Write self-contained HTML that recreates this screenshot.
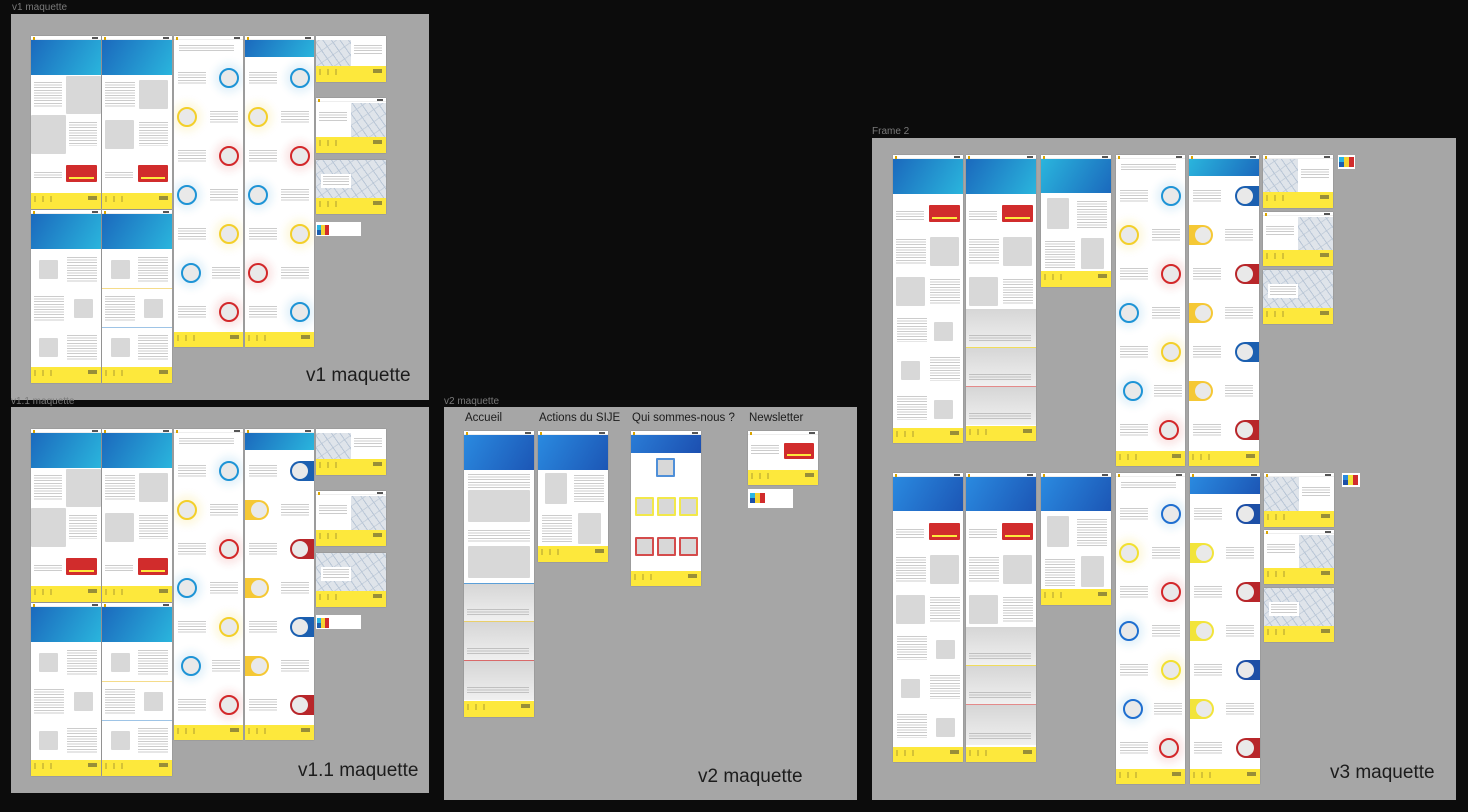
<!DOCTYPE html>
<html><head><meta charset="utf-8">
<style>
*{margin:0;padding:0;box-sizing:border-box}
body{width:1468px;height:812px;background:#0c0c0c;position:relative;overflow:hidden;font-family:"Liberation Sans",sans-serif}
.a{position:absolute}
.fr{position:absolute;background:#a6a6a6}
.fl{position:absolute;font-size:10px;color:#7a7a7a;white-space:nowrap}
.big{position:absolute;font-size:19px;color:#1c1c1c;white-space:nowrap}
.lab{position:absolute;font-size:11.5px;color:#1c1c1c;white-space:nowrap}
.m{position:absolute;background:#fff;overflow:hidden;box-shadow:0 0 1px rgba(0,0,0,.3)}
.hb{position:absolute;left:0;right:0;top:0;height:4px;background:#fff;border-bottom:1px solid #eee}
.hb:before{content:"";position:absolute;left:2px;top:1px;width:2px;height:3px;background:#d9a400}
.hb:after{content:"";position:absolute;right:3px;top:1px;width:6px;height:2px;background:#555}
.h{position:absolute;left:0;right:0;top:4px;background:linear-gradient(120deg,#1b69bd,#2ab5dd)}
.h2{position:absolute;left:0;right:0;top:4px;background:linear-gradient(120deg,#2a8ae0,#1c56b5)}
.f{position:absolute;left:0;right:0;bottom:0;height:16px;background:#fde83c}
.f:before{content:"";position:absolute;left:3px;top:3px;width:20px;height:6px;background:repeating-linear-gradient(90deg,#8a7c2a 0 2px,transparent 2px 8px);opacity:.35}
.f:after{content:"";position:absolute;right:4px;top:3px;width:9px;height:4px;background:#333;opacity:.5}
.g{position:absolute;background:#d8d8d8;border-radius:1px}
.t{position:absolute;background:repeating-linear-gradient(to bottom,#8e8e8e 0 1px,transparent 1px 2.6px);opacity:.45}
.r{position:absolute;background:#d12c2c;border-radius:1px}
.r:after{content:"";position:absolute;left:3px;right:3px;bottom:3px;height:2px;background:#fde83c}
.c{position:absolute;width:20px;height:20px;border-radius:50%;background:#e9e9e9;border:2px solid}
.cb{border-color:#1e94d6;box-shadow:0 0 8px 5px rgba(30,148,214,.12)}
.cy{border-color:#f3cf2a;box-shadow:0 0 8px 5px rgba(243,207,42,.15)}
.cr{border-color:#d3282a;box-shadow:0 0 8px 5px rgba(211,40,42,.12)}
.pr{position:absolute;right:0;width:24px;height:20px;border-radius:10px 0 0 10px}
.pl{position:absolute;left:0;width:24px;height:20px;border-radius:0 10px 10px 0}
.pr:after,.pl:after{content:"";position:absolute;top:2px;width:16px;height:16px;border-radius:50%;background:#e9e9e9}
.pr:after{left:2px}.pl:after{right:2px}
.pb{background:#1b5fb0}.py{background:#f5c835}.pR{background:#b8262a}
.map{position:absolute;background:#dfe4ea;background-image:repeating-linear-gradient(55deg,transparent 0 6px,#b9c6d6 6px 7px),repeating-linear-gradient(-35deg,transparent 0 9px,#c6d0dc 9px 10px)}
.pal{position:absolute;background:#fff}
.sec{position:absolute;left:0;right:0;background:linear-gradient(#d6d6d6,#f0f0f0)}
</style></head><body>

<!-- ============ v1 ============ -->
<div class="fl" style="left:12px;top:2px">v1 maquette</div>
<div class="fr" style="left:11px;top:14px;width:418px;height:386px"></div>

<div class="m" style="left:31px;top:36px;width:70px;height:173px"><div class="hb"></div><div class="h" style="height:35px"></div>
<div class="g" style="left:35px;top:40px;width:35px;height:38px"></div><div class="g" style="left:0;top:79px;width:35px;height:39px"></div>
<div class="t" style="left:3px;top:46px;width:28px;height:26px"></div><div class="t" style="left:38px;top:86px;width:28px;height:24px"></div>
<div class="t" style="left:3px;top:136px;width:28px;height:8px"></div><div class="r" style="left:35px;top:129px;width:31px;height:17px"></div><div class="f"></div></div>
<div class="m" style="left:102px;top:36px;width:70px;height:173px"><div class="hb"></div><div class="h" style="height:35px"></div>
<div class="g" style="left:37px;top:44px;width:29px;height:29px"></div><div class="g" style="left:3px;top:84px;width:29px;height:29px"></div>
<div class="t" style="left:3px;top:46px;width:30px;height:26px"></div><div class="t" style="left:37px;top:86px;width:29px;height:24px"></div>
<div class="t" style="left:3px;top:136px;width:28px;height:8px"></div><div class="r" style="left:36px;top:129px;width:30px;height:17px"></div><div class="f"></div></div>
<div class="m" style="left:31px;top:210px;width:70px;height:173px"><div class="hb"></div><div class="h" style="height:35px"></div>
<div class="g" style="left:8px;top:50px;width:19px;height:19px"></div><div class="g" style="left:43px;top:89px;width:19px;height:19px"></div><div class="g" style="left:8px;top:128px;width:19px;height:19px"></div>
<div class="t" style="left:36px;top:47px;width:30px;height:26px"></div><div class="t" style="left:3px;top:86px;width:30px;height:26px"></div><div class="t" style="left:36px;top:125px;width:30px;height:26px"></div><div class="f"></div></div>
<div class="m" style="left:102px;top:210px;width:70px;height:173px"><div class="hb"></div><div class="h" style="height:35px"></div>
<div class="g" style="left:9px;top:50px;width:19px;height:19px"></div><div class="g" style="left:42px;top:89px;width:19px;height:19px"></div><div class="g" style="left:9px;top:128px;width:19px;height:19px"></div>
<div class="a" style="left:0;right:0;top:78px;height:1px;background:#f5dc8a"></div><div class="a" style="left:0;right:0;top:117px;height:1px;background:#9ec4e6"></div>
<div class="t" style="left:36px;top:47px;width:30px;height:26px"></div><div class="t" style="left:3px;top:86px;width:30px;height:26px"></div><div class="t" style="left:36px;top:125px;width:30px;height:26px"></div><div class="f"></div></div>
<div class="m" style="left:174px;top:36px;width:69px;height:311px"><div class="hb"></div>
<div class="t" style="left:5px;top:9px;width:55px;height:8px"></div>
<div class="c cb" style="left:45px;top:32px"></div><div class="c cy" style="left:3px;top:71px"></div><div class="c cr" style="left:45px;top:110px"></div><div class="c cb" style="left:3px;top:149px"></div><div class="c cy" style="left:45px;top:188px"></div><div class="c cb" style="left:7px;top:227px"></div><div class="c cr" style="left:45px;top:266px"></div>
<div class="t" style="left:4px;top:36px;width:28px;height:12px"></div><div class="t" style="left:36px;top:75px;width:28px;height:12px"></div><div class="t" style="left:4px;top:114px;width:28px;height:12px"></div><div class="t" style="left:36px;top:153px;width:28px;height:12px"></div><div class="t" style="left:4px;top:192px;width:28px;height:12px"></div><div class="t" style="left:38px;top:231px;width:28px;height:12px"></div><div class="t" style="left:4px;top:270px;width:28px;height:12px"></div>
<div class="f" style="height:15px"></div></div>
<div class="m" style="left:245px;top:36px;width:69px;height:311px"><div class="hb"></div><div class="h" style="height:17px"></div>
<div class="c cb" style="left:45px;top:32px"></div><div class="c cy" style="left:3px;top:71px"></div><div class="c cr" style="left:45px;top:110px"></div><div class="c cb" style="left:3px;top:149px"></div><div class="c cy" style="left:45px;top:188px"></div><div class="c cr" style="left:3px;top:227px"></div><div class="c cb" style="left:45px;top:266px"></div>
<div class="t" style="left:4px;top:36px;width:28px;height:12px"></div><div class="t" style="left:36px;top:75px;width:28px;height:12px"></div><div class="t" style="left:4px;top:114px;width:28px;height:12px"></div><div class="t" style="left:36px;top:153px;width:28px;height:12px"></div><div class="t" style="left:4px;top:192px;width:28px;height:12px"></div><div class="t" style="left:36px;top:231px;width:28px;height:12px"></div><div class="t" style="left:4px;top:270px;width:28px;height:12px"></div>
<div class="f" style="height:15px"></div></div>
<div class="m" style="left:316px;top:36px;width:70px;height:46px"><div class="map" style="left:0;top:4px;width:35px;height:26px"></div><div class="t" style="left:38px;top:9px;width:28px;height:10px"></div><div class="f"></div></div>
<div class="m" style="left:316px;top:98px;width:70px;height:55px"><div class="hb"></div><div class="map" style="left:35px;top:5px;width:35px;height:34px"></div><div class="t" style="left:3px;top:14px;width:28px;height:10px"></div><div class="f"></div></div>
<div class="m" style="left:316px;top:160px;width:70px;height:54px"><div class="map" style="left:0;top:0;width:70px;height:38px"></div><div class="a" style="left:5px;top:14px;width:30px;height:14px;background:#fff"></div><div class="t" style="left:7px;top:16px;width:26px;height:9px"></div><div class="f"></div></div>
<div class="pal" style="left:316px;top:222px;width:45px;height:14px"><div class="a" style="left:1px;top:3px;width:4px;height:5px;background:#2ab5e3"></div><div class="a" style="left:1px;top:8px;width:4px;height:5px;background:#1b5fb0"></div><div class="a" style="left:5px;top:3px;width:4px;height:10px;background:#f5d230"></div><div class="a" style="left:9px;top:3px;width:4px;height:10px;background:#d12c2c"></div></div>
<div class="big" style="left:306px;top:365px">v1 maquette</div>

<!-- ============ v1.1 ============ -->
<div class="fl" style="left:11px;top:396px">v1.1 maquette</div>
<div class="fr" style="left:11px;top:407px;width:418px;height:386px"></div>

<div class="m" style="left:31px;top:429px;width:70px;height:173px"><div class="hb"></div><div class="h" style="height:35px"></div>
<div class="g" style="left:35px;top:40px;width:35px;height:38px"></div><div class="g" style="left:0;top:79px;width:35px;height:39px"></div>
<div class="t" style="left:3px;top:46px;width:28px;height:26px"></div><div class="t" style="left:38px;top:86px;width:28px;height:24px"></div>
<div class="t" style="left:3px;top:136px;width:28px;height:8px"></div><div class="r" style="left:35px;top:129px;width:31px;height:17px"></div><div class="f"></div></div>
<div class="m" style="left:102px;top:429px;width:70px;height:173px"><div class="hb"></div><div class="h" style="height:35px"></div>
<div class="g" style="left:37px;top:44px;width:29px;height:29px"></div><div class="g" style="left:3px;top:84px;width:29px;height:29px"></div>
<div class="t" style="left:3px;top:46px;width:30px;height:26px"></div><div class="t" style="left:37px;top:86px;width:29px;height:24px"></div>
<div class="t" style="left:3px;top:136px;width:28px;height:8px"></div><div class="r" style="left:36px;top:129px;width:30px;height:17px"></div><div class="f"></div></div>
<div class="m" style="left:31px;top:603px;width:70px;height:173px"><div class="hb"></div><div class="h" style="height:35px"></div>
<div class="g" style="left:8px;top:50px;width:19px;height:19px"></div><div class="g" style="left:43px;top:89px;width:19px;height:19px"></div><div class="g" style="left:8px;top:128px;width:19px;height:19px"></div>
<div class="t" style="left:36px;top:47px;width:30px;height:26px"></div><div class="t" style="left:3px;top:86px;width:30px;height:26px"></div><div class="t" style="left:36px;top:125px;width:30px;height:26px"></div><div class="f"></div></div>
<div class="m" style="left:102px;top:603px;width:70px;height:173px"><div class="hb"></div><div class="h" style="height:35px"></div>
<div class="g" style="left:9px;top:50px;width:19px;height:19px"></div><div class="g" style="left:42px;top:89px;width:19px;height:19px"></div><div class="g" style="left:9px;top:128px;width:19px;height:19px"></div>
<div class="a" style="left:0;right:0;top:78px;height:1px;background:#f5dc8a"></div><div class="a" style="left:0;right:0;top:117px;height:1px;background:#9ec4e6"></div>
<div class="t" style="left:36px;top:47px;width:30px;height:26px"></div><div class="t" style="left:3px;top:86px;width:30px;height:26px"></div><div class="t" style="left:36px;top:125px;width:30px;height:26px"></div><div class="f"></div></div>
<div class="m" style="left:174px;top:429px;width:69px;height:311px"><div class="hb"></div>
<div class="t" style="left:5px;top:9px;width:55px;height:8px"></div>
<div class="c cb" style="left:45px;top:32px"></div><div class="c cy" style="left:3px;top:71px"></div><div class="c cr" style="left:45px;top:110px"></div><div class="c cb" style="left:3px;top:149px"></div><div class="c cy" style="left:45px;top:188px"></div><div class="c cb" style="left:7px;top:227px"></div><div class="c cr" style="left:45px;top:266px"></div>
<div class="t" style="left:4px;top:36px;width:28px;height:12px"></div><div class="t" style="left:36px;top:75px;width:28px;height:12px"></div><div class="t" style="left:4px;top:114px;width:28px;height:12px"></div><div class="t" style="left:36px;top:153px;width:28px;height:12px"></div><div class="t" style="left:4px;top:192px;width:28px;height:12px"></div><div class="t" style="left:38px;top:231px;width:28px;height:12px"></div><div class="t" style="left:4px;top:270px;width:28px;height:12px"></div>
<div class="f" style="height:15px"></div></div>
<div class="m" style="left:245px;top:429px;width:69px;height:311px"><div class="hb"></div><div class="h" style="height:17px"></div>
<div class="pr pb" style="top:32px"></div><div class="pl py" style="top:71px"></div><div class="pr pR" style="top:110px"></div><div class="pl py" style="top:149px"></div><div class="pr pb" style="top:188px"></div><div class="pl py" style="top:227px"></div><div class="pr pR" style="top:266px"></div>
<div class="t" style="left:4px;top:36px;width:28px;height:12px"></div><div class="t" style="left:36px;top:75px;width:28px;height:12px"></div><div class="t" style="left:4px;top:114px;width:28px;height:12px"></div><div class="t" style="left:36px;top:153px;width:28px;height:12px"></div><div class="t" style="left:4px;top:192px;width:28px;height:12px"></div><div class="t" style="left:36px;top:231px;width:28px;height:12px"></div><div class="t" style="left:4px;top:270px;width:28px;height:12px"></div>
<div class="f" style="height:15px"></div></div>
<div class="m" style="left:316px;top:429px;width:70px;height:46px"><div class="map" style="left:0;top:4px;width:35px;height:26px"></div><div class="t" style="left:38px;top:9px;width:28px;height:10px"></div><div class="f"></div></div>
<div class="m" style="left:316px;top:491px;width:70px;height:55px"><div class="hb"></div><div class="map" style="left:35px;top:5px;width:35px;height:34px"></div><div class="t" style="left:3px;top:14px;width:28px;height:10px"></div><div class="f"></div></div>
<div class="m" style="left:316px;top:553px;width:70px;height:54px"><div class="map" style="left:0;top:0;width:70px;height:38px"></div><div class="a" style="left:5px;top:14px;width:30px;height:14px;background:#fff"></div><div class="t" style="left:7px;top:16px;width:26px;height:9px"></div><div class="f"></div></div>
<div class="pal" style="left:316px;top:615px;width:45px;height:14px"><div class="a" style="left:1px;top:3px;width:4px;height:5px;background:#2ab5e3"></div><div class="a" style="left:1px;top:8px;width:4px;height:5px;background:#1b5fb0"></div><div class="a" style="left:5px;top:3px;width:4px;height:10px;background:#f5d230"></div><div class="a" style="left:9px;top:3px;width:4px;height:10px;background:#d12c2c"></div></div>
<div class="big" style="left:298px;top:760px">v1.1 maquette</div>

<!-- ============ v2 ============ -->
<div class="fl" style="left:444px;top:396px">v2 maquette</div>
<div class="fr" style="left:444px;top:407px;width:413px;height:393px"></div>
<div class="lab" style="left:465px;top:412px">Accueil</div>
<div class="lab" style="left:539px;top:412px">Actions du SIJE</div>
<div class="lab" style="left:632px;top:412px">Qui sommes-nous ?</div>
<div class="lab" style="left:749px;top:412px">Newsletter</div>

<div class="m" style="left:464px;top:431px;width:70px;height:286px"><div class="hb"></div><div class="h2" style="height:35px"></div>
<div class="t" style="left:4px;top:43px;width:62px;height:14px"></div><div class="g" style="left:4px;top:59px;width:62px;height:32px"></div>
<div class="t" style="left:4px;top:99px;width:62px;height:12px"></div><div class="g" style="left:4px;top:115px;width:62px;height:32px"></div>
<div class="a" style="left:0;right:0;top:152px;height:1px;background:#5b9fd8"></div><div class="sec" style="top:153px;height:37px"></div><div class="t" style="left:3px;top:178px;width:62px;height:7px"></div>
<div class="a" style="left:0;right:0;top:190px;height:1px;background:#e9cf6a"></div><div class="sec" style="top:191px;height:38px"></div><div class="t" style="left:3px;top:217px;width:62px;height:7px"></div>
<div class="a" style="left:0;right:0;top:229px;height:1px;background:#d96a6a"></div><div class="sec" style="top:230px;height:39px"></div><div class="t" style="left:3px;top:256px;width:62px;height:7px"></div>
<div class="f"></div></div>
<div class="m" style="left:538px;top:431px;width:70px;height:131px"><div class="hb"></div><div class="h2" style="height:35px"></div>
<div class="g" style="left:7px;top:42px;width:22px;height:31px"></div><div class="t" style="left:36px;top:44px;width:30px;height:27px"></div>
<div class="g" style="left:40px;top:82px;width:23px;height:31px"></div><div class="t" style="left:4px;top:84px;width:30px;height:27px"></div>
<div class="f"></div></div>
<div class="m" style="left:631px;top:431px;width:70px;height:155px"><div class="hb"></div><div class="h2" style="height:18px;background:linear-gradient(120deg,#2a7cd6,#1c4fb0)"></div>
<div class="g" style="left:25px;top:27px;width:19px;height:19px;border:2px solid #4f8fd8"></div>
<div class="g" style="left:4px;top:66px;width:19px;height:19px;border:2px solid #f2e84a"></div><div class="g" style="left:26px;top:66px;width:19px;height:19px;border:2px solid #f2e84a"></div><div class="g" style="left:48px;top:66px;width:19px;height:19px;border:2px solid #f2e84a"></div>
<div class="g" style="left:4px;top:106px;width:19px;height:19px;border:2px solid #d44c4c"></div><div class="g" style="left:26px;top:106px;width:19px;height:19px;border:2px solid #d44c4c"></div><div class="g" style="left:48px;top:106px;width:19px;height:19px;border:2px solid #d44c4c"></div>
<div class="f" style="height:15px"></div></div>
<div class="m" style="left:748px;top:431px;width:70px;height:54px"><div class="hb"></div><div class="t" style="left:3px;top:14px;width:28px;height:9px"></div><div class="r" style="left:36px;top:12px;width:30px;height:16px"></div><div class="f" style="height:15px"></div></div>
<div class="pal" style="left:748px;top:489px;width:45px;height:19px"><div class="a" style="left:2px;top:4px;width:5px;height:5px;background:#2ab5e3"></div><div class="a" style="left:2px;top:9px;width:5px;height:5px;background:#1b4fa8"></div><div class="a" style="left:7px;top:4px;width:5px;height:10px;background:#f5d230"></div><div class="a" style="left:12px;top:4px;width:5px;height:10px;background:#d12c2c"></div></div>
<div class="big" style="left:698px;top:766px">v2 maquette</div>

<!-- ============ Frame 2 / v3 ============ -->
<div class="fl" style="left:872px;top:126px">Frame 2</div>
<div class="fr" style="left:872px;top:138px;width:584px;height:662px"></div>

<div class="m" style="left:893px;top:155px;width:70px;height:288px"><div class="hb"></div><div class="h" style="height:35px"></div>
<div class="t" style="left:3px;top:56px;width:28px;height:9px"></div><div class="r" style="left:36px;top:50px;width:31px;height:17px"></div>
<div class="t" style="left:3px;top:84px;width:30px;height:26px"></div><div class="g" style="left:37px;top:82px;width:29px;height:29px"></div>
<div class="g" style="left:3px;top:122px;width:29px;height:29px"></div><div class="t" style="left:37px;top:124px;width:30px;height:26px"></div>
<div class="t" style="left:4px;top:163px;width:30px;height:24px"></div><div class="g" style="left:41px;top:167px;width:19px;height:19px"></div>
<div class="g" style="left:8px;top:206px;width:19px;height:19px"></div><div class="t" style="left:37px;top:202px;width:30px;height:24px"></div>
<div class="t" style="left:4px;top:241px;width:30px;height:24px"></div><div class="g" style="left:41px;top:245px;width:19px;height:19px"></div>
<div class="f" style="height:15px"></div></div>
<div class="m" style="left:966px;top:155px;width:70px;height:286px"><div class="hb"></div><div class="h" style="height:35px"></div>
<div class="t" style="left:3px;top:56px;width:28px;height:9px"></div><div class="r" style="left:36px;top:50px;width:31px;height:17px"></div>
<div class="t" style="left:3px;top:84px;width:30px;height:26px"></div><div class="g" style="left:37px;top:82px;width:29px;height:29px"></div>
<div class="g" style="left:3px;top:122px;width:29px;height:29px"></div><div class="t" style="left:37px;top:124px;width:30px;height:26px"></div>
<div class="sec" style="top:154px;height:38px"></div><div class="t" style="left:3px;top:180px;width:62px;height:7px"></div>
<div class="a" style="left:0;right:0;top:192px;height:1px;background:#f0dc5a"></div><div class="sec" style="top:193px;height:38px"></div><div class="t" style="left:3px;top:219px;width:62px;height:7px"></div>
<div class="a" style="left:0;right:0;top:231px;height:1px;background:#e48a8a"></div><div class="sec" style="top:232px;height:38px"></div><div class="t" style="left:3px;top:258px;width:62px;height:7px"></div>
<div class="f" style="height:15px"></div></div>
<div class="m" style="left:1041px;top:155px;width:70px;height:132px"><div class="hb"></div><div class="h" style="height:34px;background:linear-gradient(120deg,#2ab5dd,#1b69bd)"></div>
<div class="g" style="left:6px;top:43px;width:22px;height:31px"></div><div class="t" style="left:36px;top:46px;width:30px;height:27px"></div>
<div class="g" style="left:40px;top:83px;width:23px;height:31px"></div><div class="t" style="left:4px;top:86px;width:30px;height:27px"></div>
<div class="f" style="height:16px"></div></div>
<div class="m" style="left:1116px;top:155px;width:69px;height:311px"><div class="hb"></div>
<div class="t" style="left:5px;top:9px;width:55px;height:8px"></div>
<div class="c cb" style="left:45px;top:31px"></div><div class="c cy" style="left:3px;top:70px"></div><div class="c cr" style="left:45px;top:109px"></div><div class="c cb" style="left:3px;top:148px"></div><div class="c cy" style="left:45px;top:187px"></div><div class="c cb" style="left:7px;top:226px"></div><div class="c cr" style="left:43px;top:265px"></div>
<div class="t" style="left:4px;top:35px;width:28px;height:12px"></div><div class="t" style="left:36px;top:74px;width:28px;height:12px"></div><div class="t" style="left:4px;top:113px;width:28px;height:12px"></div><div class="t" style="left:36px;top:152px;width:28px;height:12px"></div><div class="t" style="left:4px;top:191px;width:28px;height:12px"></div><div class="t" style="left:38px;top:230px;width:28px;height:12px"></div><div class="t" style="left:4px;top:269px;width:28px;height:12px"></div>
<div class="f" style="height:15px"></div></div>
<div class="m" style="left:1189px;top:155px;width:70px;height:311px"><div class="hb"></div><div class="h" style="height:17px;background:linear-gradient(120deg,#2ab5dd,#1b69bd)"></div>
<div class="pr pb" style="top:31px"></div><div class="pl py" style="top:70px"></div><div class="pr pR" style="top:109px"></div><div class="pl py" style="top:148px"></div><div class="pr pb" style="top:187px"></div><div class="pl py" style="top:226px"></div><div class="pr pR" style="top:265px"></div>
<div class="t" style="left:4px;top:35px;width:28px;height:12px"></div><div class="t" style="left:36px;top:74px;width:28px;height:12px"></div><div class="t" style="left:4px;top:113px;width:28px;height:12px"></div><div class="t" style="left:36px;top:152px;width:28px;height:12px"></div><div class="t" style="left:4px;top:191px;width:28px;height:12px"></div><div class="t" style="left:36px;top:230px;width:28px;height:12px"></div><div class="t" style="left:4px;top:269px;width:28px;height:12px"></div>
<div class="f" style="height:15px"></div></div>
<div class="m" style="left:1263px;top:155px;width:70px;height:53px"><div class="hb"></div><div class="map" style="left:0;top:4px;width:35px;height:34px"></div><div class="t" style="left:38px;top:14px;width:28px;height:10px"></div><div class="f"></div></div>
<div class="m" style="left:1263px;top:212px;width:70px;height:54px"><div class="hb"></div><div class="map" style="left:35px;top:5px;width:35px;height:33px"></div><div class="t" style="left:3px;top:14px;width:28px;height:10px"></div><div class="f"></div></div>
<div class="m" style="left:1263px;top:270px;width:70px;height:54px"><div class="map" style="left:0;top:0;width:70px;height:38px"></div><div class="a" style="left:5px;top:14px;width:30px;height:14px;background:#fff"></div><div class="t" style="left:7px;top:16px;width:26px;height:9px"></div><div class="f"></div></div>
<div class="pal" style="left:1338px;top:155px;width:17px;height:14px"><div class="a" style="left:1px;top:2px;width:5px;height:5px;background:#2ab5e3"></div><div class="a" style="left:1px;top:7px;width:5px;height:5px;background:#1b5fb0"></div><div class="a" style="left:6px;top:2px;width:5px;height:10px;background:#f5d230"></div><div class="a" style="left:11px;top:2px;width:5px;height:10px;background:#d12c2c"></div></div>

<div class="m" style="left:893px;top:473px;width:70px;height:289px"><div class="hb"></div><div class="h2" style="height:34px"></div>
<div class="t" style="left:3px;top:56px;width:28px;height:9px"></div><div class="r" style="left:36px;top:50px;width:31px;height:17px"></div>
<div class="t" style="left:3px;top:84px;width:30px;height:26px"></div><div class="g" style="left:37px;top:82px;width:29px;height:29px"></div>
<div class="g" style="left:3px;top:122px;width:29px;height:29px"></div><div class="t" style="left:37px;top:124px;width:30px;height:26px"></div>
<div class="t" style="left:4px;top:163px;width:30px;height:24px"></div><div class="g" style="left:43px;top:167px;width:19px;height:19px"></div>
<div class="g" style="left:8px;top:206px;width:19px;height:19px"></div><div class="t" style="left:37px;top:202px;width:30px;height:24px"></div>
<div class="t" style="left:4px;top:241px;width:30px;height:24px"></div><div class="g" style="left:43px;top:245px;width:19px;height:19px"></div>
<div class="f" style="height:15px"></div></div>
<div class="m" style="left:966px;top:473px;width:70px;height:289px"><div class="hb"></div><div class="h2" style="height:34px"></div>
<div class="t" style="left:3px;top:56px;width:28px;height:9px"></div><div class="r" style="left:36px;top:50px;width:31px;height:17px"></div>
<div class="t" style="left:3px;top:84px;width:30px;height:26px"></div><div class="g" style="left:37px;top:82px;width:29px;height:29px"></div>
<div class="g" style="left:3px;top:122px;width:29px;height:29px"></div><div class="t" style="left:37px;top:124px;width:30px;height:26px"></div>
<div class="sec" style="top:154px;height:38px"></div><div class="t" style="left:3px;top:180px;width:62px;height:7px"></div>
<div class="a" style="left:0;right:0;top:192px;height:1px;background:#f0dc5a"></div><div class="sec" style="top:193px;height:38px"></div><div class="t" style="left:3px;top:219px;width:62px;height:7px"></div>
<div class="a" style="left:0;right:0;top:231px;height:1px;background:#e48a8a"></div><div class="sec" style="top:232px;height:40px"></div><div class="t" style="left:3px;top:260px;width:62px;height:7px"></div>
<div class="f" style="height:15px"></div></div>
<div class="m" style="left:1041px;top:473px;width:70px;height:132px"><div class="hb"></div><div class="h2" style="height:34px"></div>
<div class="g" style="left:6px;top:43px;width:22px;height:31px"></div><div class="t" style="left:36px;top:46px;width:30px;height:27px"></div>
<div class="g" style="left:40px;top:83px;width:23px;height:31px"></div><div class="t" style="left:4px;top:86px;width:30px;height:27px"></div>
<div class="f" style="height:16px"></div></div>
<div class="m" style="left:1116px;top:473px;width:69px;height:311px"><div class="hb"></div>
<div class="t" style="left:5px;top:9px;width:55px;height:8px"></div>
<div class="c cb" style="left:45px;top:31px;border-color:#1f6fd0"></div><div class="c cy" style="left:3px;top:70px;border-color:#f2e030"></div><div class="c cr" style="left:45px;top:109px"></div><div class="c cb" style="left:3px;top:148px;border-color:#1f6fd0"></div><div class="c cy" style="left:45px;top:187px;border-color:#f2e030"></div><div class="c cb" style="left:7px;top:226px;border-color:#1f6fd0"></div><div class="c cr" style="left:43px;top:265px"></div>
<div class="t" style="left:4px;top:35px;width:28px;height:12px"></div><div class="t" style="left:36px;top:74px;width:28px;height:12px"></div><div class="t" style="left:4px;top:113px;width:28px;height:12px"></div><div class="t" style="left:36px;top:152px;width:28px;height:12px"></div><div class="t" style="left:4px;top:191px;width:28px;height:12px"></div><div class="t" style="left:38px;top:230px;width:28px;height:12px"></div><div class="t" style="left:4px;top:269px;width:28px;height:12px"></div>
<div class="f" style="height:15px"></div></div>
<div class="m" style="left:1190px;top:473px;width:70px;height:311px"><div class="hb"></div><div class="h2" style="height:17px"></div>
<div class="pr pb" style="top:31px;background:#1d4fa6"></div><div class="pl py" style="top:70px;background:#f2e43a"></div><div class="pr pR" style="top:109px"></div><div class="pl py" style="top:148px;background:#f2e43a"></div><div class="pr pb" style="top:187px;background:#1d4fa6"></div><div class="pl py" style="top:226px;background:#f2e43a"></div><div class="pr pR" style="top:265px"></div>
<div class="t" style="left:4px;top:35px;width:28px;height:12px"></div><div class="t" style="left:36px;top:74px;width:28px;height:12px"></div><div class="t" style="left:4px;top:113px;width:28px;height:12px"></div><div class="t" style="left:36px;top:152px;width:28px;height:12px"></div><div class="t" style="left:4px;top:191px;width:28px;height:12px"></div><div class="t" style="left:36px;top:230px;width:28px;height:12px"></div><div class="t" style="left:4px;top:269px;width:28px;height:12px"></div>
<div class="f" style="height:15px"></div></div>
<div class="m" style="left:1264px;top:473px;width:70px;height:54px"><div class="hb"></div><div class="map" style="left:0;top:4px;width:35px;height:34px"></div><div class="t" style="left:38px;top:14px;width:28px;height:10px"></div><div class="f"></div></div>
<div class="m" style="left:1264px;top:530px;width:70px;height:54px"><div class="hb"></div><div class="map" style="left:35px;top:5px;width:35px;height:33px"></div><div class="t" style="left:3px;top:14px;width:28px;height:10px"></div><div class="f"></div></div>
<div class="m" style="left:1264px;top:588px;width:70px;height:54px"><div class="map" style="left:0;top:0;width:70px;height:38px"></div><div class="a" style="left:5px;top:14px;width:30px;height:14px;background:#fff"></div><div class="t" style="left:7px;top:16px;width:26px;height:9px"></div><div class="f"></div></div>
<div class="pal" style="left:1342px;top:473px;width:18px;height:14px"><div class="a" style="left:1px;top:2px;width:5px;height:5px;background:#2a8ae0"></div><div class="a" style="left:1px;top:7px;width:5px;height:5px;background:#1d4fa6"></div><div class="a" style="left:6px;top:2px;width:5px;height:10px;background:#f2e43a"></div><div class="a" style="left:11px;top:2px;width:5px;height:10px;background:#d12c2c"></div></div>
<div class="big" style="left:1330px;top:762px">v3 maquette</div>
</body></html>
